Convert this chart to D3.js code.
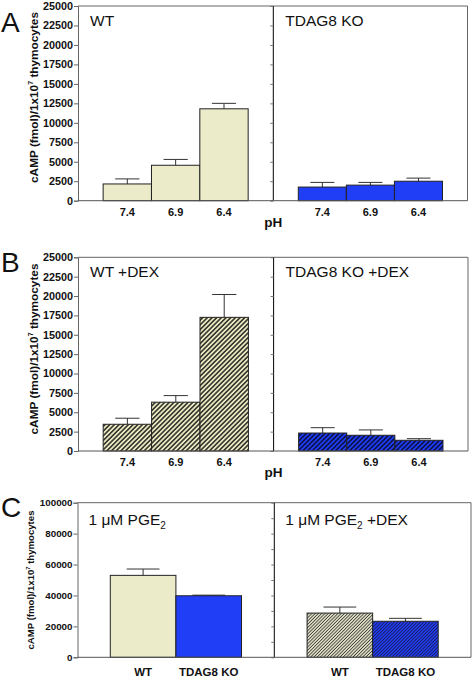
<!DOCTYPE html>
<html><head><meta charset="utf-8">
<script src="https://cdn.jsdelivr.net/npm/d3@7"></script>
<style>body{margin:0;background:#fff}svg{display:block;font-family:"Liberation Sans",Arial,sans-serif}</style>
</head><body><svg id="c" width="475" height="679"></svg>
<script>
// ---- data ----
const phCats = ["7.4", "6.9", "6.4"];
const wtA = [2150, 4550, 11800], wtAErr = [650, 750, 700];
const koA = [1750, 2000, 2500], koAErr = [600, 350, 400];
const wtB = [3450, 6300, 17250], wtBErr = [780, 850, 2950];
const koB = [2320, 2030, 1380], koBErr = [690, 690, 210];
const genoCats = ["WT", "TDAG8 KO"];
const pgeVals = [53000, 39800], pgeErr = [4100, 400];
const pgeDexVals = [28600, 23300], pgeDexErr = [3900, 1900];
const ticksAB = [0, 2500, 5000, 7500, 10000, 12500, 15000, 17500, 20000, 22500, 25000];
const ticksC = [0, 20000, 40000, 60000, 80000, 100000];
const ticksCMinor = [0, 10000, 20000, 30000, 40000, 50000, 60000, 70000, 80000, 90000, 100000];

const svg = d3.select("#c");
const CREAM = "#ebebc9", BLUE = "#1f3ef6";
const defs = svg.append("defs");
function hatch(id, bg, s, sw, col) {
  const p = defs.append("pattern").attr("id", id).attr("patternUnits", "userSpaceOnUse")
    .attr("width", s).attr("height", s).attr("patternTransform", "rotate(45)");
  p.append("rect").attr("width", s).attr("height", s).attr("fill", bg);
  p.append("line").attr("x1", s / 2).attr("x2", s / 2).attr("y1", 0).attr("y2", s)
    .attr("stroke", col).attr("stroke-width", sw);
}
hatch("hWt", "#ececc4", 3.3, 1.35, "#111");
hatch("hKo", BLUE, 3.3, 1.3, "#050520");
hatch("hWtC", "#e4e4c8", 2.3, 0.85, "#3a3a3a");
hatch("hKoC", BLUE, 2.3, 0.85, "#1a1a55");

function yTitle(x, yc, fs) {
  const t = svg.append("text").attr("transform", `translate(${x},${yc}) rotate(-90)`)
    .attr("text-anchor", "middle").attr("font-weight", "bold").attr("font-size", fs).attr("fill", "#111");
  t.append("tspan").text("cAMP (fmol)/1x10");
  t.append("tspan").attr("font-size", fs * 0.6).attr("dy", -fs * 0.4).text("7");
  t.append("tspan").attr("dy", fs * 0.4).text(" thymocytes");
}

function panel(cfg) {
  const y = d3.scaleLinear().domain([0, cfg.max]).range([cfg.bottom, cfg.top]);
  const g = svg.append("g");
  g.append("line").attr("x1", cfg.left).attr("x2", cfg.right).attr("y1", cfg.top).attr("y2", cfg.top).attr("stroke", "#666");
  g.append("line").attr("x1", cfg.right).attr("x2", cfg.right).attr("y1", cfg.top).attr("y2", cfg.bottom).attr("stroke", "#666");
  cfg.subs.forEach((s, si) => {
    const x0 = si === 0 ? cfg.left : cfg.div, x1 = si === 0 ? cfg.div : cfg.right;
    const x = d3.scaleBand().domain(s.cats).range([x0, x1]).paddingInner(0).paddingOuter(cfg.pad);
    const data = s.cats.map((c, i) => ({c, v: s.vals[i], e: s.errs[i], f: s.fills[i]}));
    const bw = x.bandwidth();
    g.selectAll(null).data(data).join("line")
      .attr("x1", d => x(d.c) + bw / 2).attr("x2", d => x(d.c) + bw / 2)
      .attr("y1", d => y(d.v)).attr("y2", d => y(d.v + d.e)).attr("stroke", "#333");
    g.selectAll(null).data(data).join("line")
      .attr("x1", d => x(d.c) + bw / 4).attr("x2", d => x(d.c) + bw * 3 / 4)
      .attr("y1", d => y(d.v + d.e)).attr("y2", d => y(d.v + d.e)).attr("stroke", "#333");
    g.selectAll(null).data(data).join("rect")
      .attr("x", d => x(d.c)).attr("width", bw)
      .attr("y", d => y(d.v)).attr("height", d => y(0) - y(d.v))
      .attr("fill", d => d.f).attr("stroke", "#222").attr("stroke-width", 1);
    g.selectAll(null).data(data).join("text")
      .attr("x", d => x(d.c) + bw / 2).attr("y", cfg.bottom + cfg.xlOff)
      .attr("text-anchor", "middle").attr("dominant-baseline", "central")
      .attr("font-weight", "bold").attr("font-size", cfg.xlFs).attr("fill", "#111").text(d => d.c);
    const t = svg.append("text").attr("x", x0 + cfg.tOff).attr("y", cfg.top + cfg.tY)
      .attr("font-size", 15.5).attr("fill", "#111");
    s.title.forEach(p => {
      const ts = t.append("tspan").text(p.t);
      if (p.sub) ts.attr("font-size", 10).attr("dy", 4);
      if (p.back) ts.attr("dy", -4);
    });
  });
  const ax = g.append("g").attr("transform", `translate(${cfg.left},0)`)
    .call(d3.axisLeft(y).tickValues(cfg.ticks).tickFormat(d3.format("d")).tickSize(4).tickPadding(1));
  ax.selectAll("path,line").attr("stroke", "#666");
  ax.selectAll("text").attr("font-weight", "bold").attr("font-size", cfg.ytFs).attr("fill", "#111")
    .attr("font-family", "'Liberation Sans',Arial,sans-serif");
  const dv = g.append("g").attr("transform", `translate(${cfg.div},0)`)
    .call(d3.axisLeft(y).tickValues(cfg.minor).tickFormat("").tickSize(3));
  dv.select("path").attr("stroke", "#000").attr("d", `M0,${cfg.top}V${cfg.bottom}`);
  dv.selectAll("line").attr("stroke", "#777");
  g.append("line").attr("x1", cfg.left).attr("x2", cfg.right).attr("y1", cfg.bottom).attr("y2", cfg.bottom).attr("stroke", "#555");
  if (cfg.ph) svg.append("text").attr("x", cfg.div).attr("y", cfg.bottom + cfg.phOff)
    .attr("text-anchor", "middle").attr("dominant-baseline", "central")
    .attr("font-weight", "bold").attr("font-size", 13.5).attr("fill", "#111").text("pH");
  svg.append("text").attr("x", 1).attr("y", cfg.letterY).attr("font-size", 28).attr("fill", "#111").text(cfg.letter);
  yTitle(cfg.ytX, cfg.ytY, cfg.ytitleFs);
}

panel({
  letter: "A", letterY: 32, left: 78, right: 467.5, div: 273.3, top: 6, bottom: 200.7, max: 25000,
  pad: 0.52, ticks: ticksAB, minor: ticksAB, ytFs: 10.8, xlFs: 11, xlOff: 11, ph: true, phOff: 21.5,
  tOff: 12, tY: 20, ytX: 37.5, ytY: 97.5, ytitleFs: 11.8,
  subs: [
    {cats: phCats, vals: wtA, errs: wtAErr, fills: [CREAM, CREAM, CREAM], title: [{t: "WT"}]},
    {cats: phCats, vals: koA, errs: koAErr, fills: [BLUE, BLUE, BLUE], title: [{t: "TDAG8 KO"}]}
  ]
});
panel({
  letter: "B", letterY: 272, left: 78, right: 468, div: 273.6, top: 257.3, bottom: 451, max: 25000,
  pad: 0.52, ticks: ticksAB, minor: ticksAB, ytFs: 10.8, xlFs: 11, xlOff: 11, ph: true, phOff: 21.5,
  tOff: 12, tY: 20, ytX: 37.5, ytY: 349, ytitleFs: 11.8,
  subs: [
    {cats: phCats, vals: wtB, errs: wtBErr, fills: ["url(#hWt)", "url(#hWt)", "url(#hWt)"], title: [{t: "WT +DEX"}]},
    {cats: phCats, vals: koB, errs: koBErr, fills: ["url(#hKo)", "url(#hKo)", "url(#hKo)"], title: [{t: "TDAG8 KO +DEX"}]}
  ]
});
panel({
  letter: "C", letterY: 517, left: 77.5, right: 471, div: 274.3, top: 502.7, bottom: 657.3, max: 100000,
  pad: 0.5, ticks: ticksC, minor: ticksCMinor, ytFs: 9.8, xlFs: 11.5, xlOff: 14.4, ph: false,
  tOff: 11, tY: 22, ytX: 34, ytY: 580, ytitleFs: 9.6,
  subs: [
    {cats: genoCats, vals: pgeVals, errs: pgeErr, fills: [CREAM, BLUE], title: [{t: "1 μM PGE"}, {t: "2", sub: true}]},
    {cats: genoCats, vals: pgeDexVals, errs: pgeDexErr, fills: ["url(#hWtC)", "url(#hKoC)"], title: [{t: "1 μM PGE"}, {t: "2", sub: true}, {t: " +DEX", back: true}]}
  ]
});
</script></body></html>
